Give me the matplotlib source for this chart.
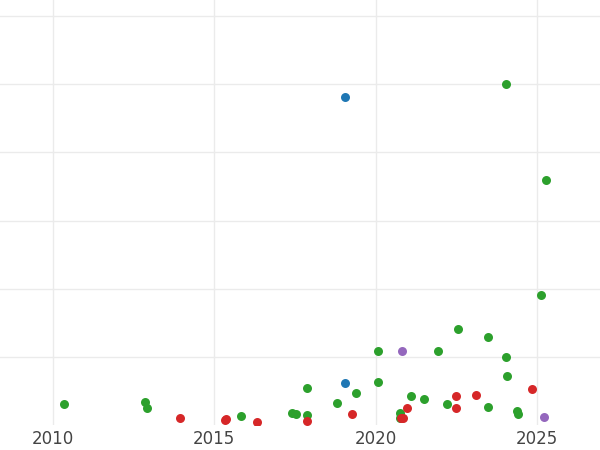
import matplotlib
matplotlib.use("Agg")
from matplotlib import pyplot as plt

# points, grouped by colour
blue_x = [2019.05, 2019.05]
blue_y = [4.81, 0.62]
purple_x = [2020.81, 2025.22]
purple_y = [1.09, 0.12]
red_x = [2013.94, 2015.33, 2015.36, 2016.32, 2017.87, 2019.27, 2020.78, 2020.85,
         2020.97, 2022.49, 2022.49, 2023.11, 2024.84]
red_y = [0.10, 0.07, 0.09, 0.04, 0.06, 0.16, 0.10, 0.10,
         0.25, 0.43, 0.24, 0.44, 0.53]
green_x = [2010.34, 2012.85, 2012.91, 2015.83, 2017.41, 2017.53, 2017.87, 2017.87,
           2018.80, 2019.39, 2020.07, 2020.07, 2020.75, 2020.75, 2021.09, 2021.50,
           2021.93, 2022.21, 2022.55, 2023.48, 2023.48, 2024.04, 2024.04, 2024.07,
           2024.38, 2024.41, 2025.12, 2025.28]
green_y = [0.31, 0.34, 0.24, 0.13, 0.18, 0.16, 0.54, 0.15,
           0.32, 0.47, 1.09, 0.63, 0.18, 0.10, 0.43, 0.38,
           1.09, 0.31, 1.40, 1.29, 0.26, 5.01, 0.99, 0.71,
           0.21, 0.16, 1.90, 3.60]

fig = plt.figure(figsize=(6, 4.5), dpi=100)
ax = fig.add_axes([0, 0.056, 1, 0.944])

for xs, ys, c in [(green_x, green_y, '#2ca02c'), (red_x, red_y, '#d62728'),
                  (blue_x, blue_y, '#1f77b4'), (purple_x, purple_y, '#9467bd')]:
    ax.scatter(xs, ys, s=42, color=c, zorder=3, linewidths=0)

ax.set_xlim(2008.36, 2026.95)
ax.set_ylim(0, 6.24)
ax.set_xticks([2010, 2015, 2020, 2025])
ax.set_yticks([1, 2, 3, 4, 5, 6])
ax.set_yticklabels([])
ax.tick_params(length=0, labelsize=12, labelcolor='#444444', pad=4)
ax.grid(color='#ebebeb', linewidth=1)
ax.set_axisbelow(True)
for s in ax.spines.values():
    s.set_visible(False)

fig.savefig('out.png')
